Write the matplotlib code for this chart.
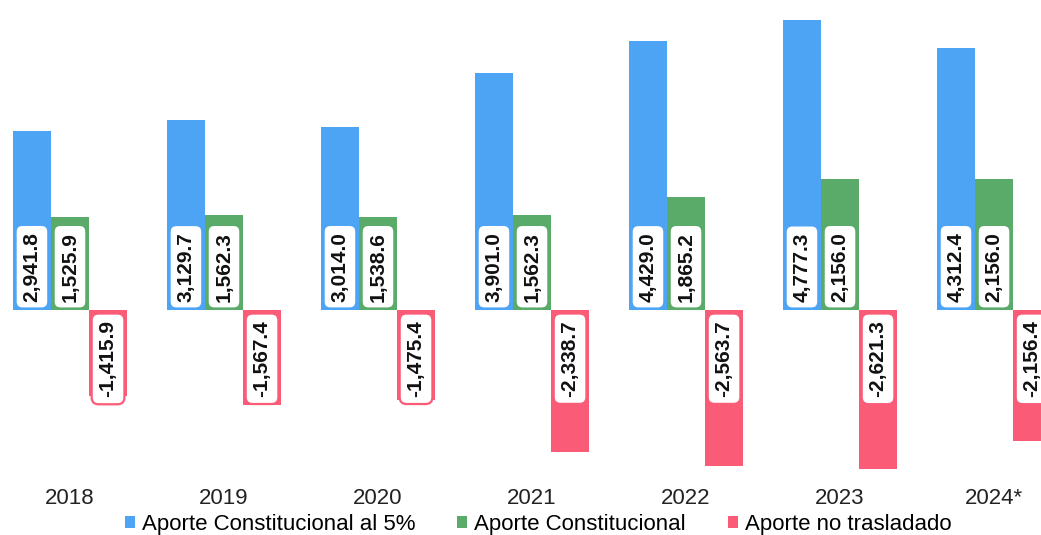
#!/usr/bin/env python3
# -*- coding: utf-8 -*-
# Aporte constitucional por año (barras agrupadas)

import numpy as np
from matplotlib import pyplot as plt

# datos del grafico
anios = ['2018', '2019', '2020', '2021', '2022', '2023', '2024*']
aporte_5 = [2941.8, 3129.7, 3014.0, 3901.0, 4429.0, 4777.3, 4312.4]
aporte_const = [1525.9, 1562.3, 1538.6, 1562.3, 1865.2, 2156.0, 2156.0]
no_trasladado = [-1415.9, -1567.4, -1475.4, -2338.7, -2563.7, -2621.3, -2156.4]

series = ['Aporte Constitucional al 5%', 'Aporte Constitucional', 'Aporte no trasladado']


def main():
    plt.rcParams['font.family'] = ['Liberation Sans', 'DejaVu Sans']

    colores = ['#4ea4f4', '#5aab69', '#fa5b77']
    valores = [aporte_5, aporte_const, no_trasladado]

    fig = plt.figure(figsize=(10.41, 5.35), dpi=100)
    ax = fig.add_axes([0, 0.1028, 1, 0.8972])

    x = np.arange(len(anios))
    bwidth = 0.247

    for i in range(3):
        pos = x + (i - 1) * bwidth
        ax.bar(pos, valores[i], width=bwidth, color=colores[i], label=series[i])
        # etiquetas dentro de la barra, junto a la base
        for px, v in zip(pos, valores[i]):
            if v >= 0:
                off, va = 6, 'bottom'
            else:
                off, va = -7.5, 'top'
            ax.annotate(f'{v:,.1f}', (px, 0), xytext=(0, off), textcoords='offset points',
                        rotation=90, ha='center', va=va, fontsize=15, fontweight='bold',
                        color='#111111',
                        bbox=dict(boxstyle='round,pad=0.33', fc='white', ec=colores[i], lw=1.6))

    ax.set_xlim(-0.4545, 6.305)
    ax.set_ylim(-2801, 5107)
    ax.set_xticks(x)
    ax.set_xticklabels(anios, fontsize=16, color='#222222')
    ax.tick_params(axis='x', length=0, pad=6)
    ax.set_yticks([])
    for s in ax.spines.values():
        s.set_visible(False)

    fig.legend(loc='center', bbox_to_anchor=(0.517, 0.019), ncol=3, frameon=False,
               fontsize=16, handlelength=0.45, handleheight=0.45, handletextpad=0.3,
               columnspacing=1.9, borderaxespad=0, borderpad=0)

    plt.savefig('out.png', dpi=100)


if __name__ == "__main__":
    main()
